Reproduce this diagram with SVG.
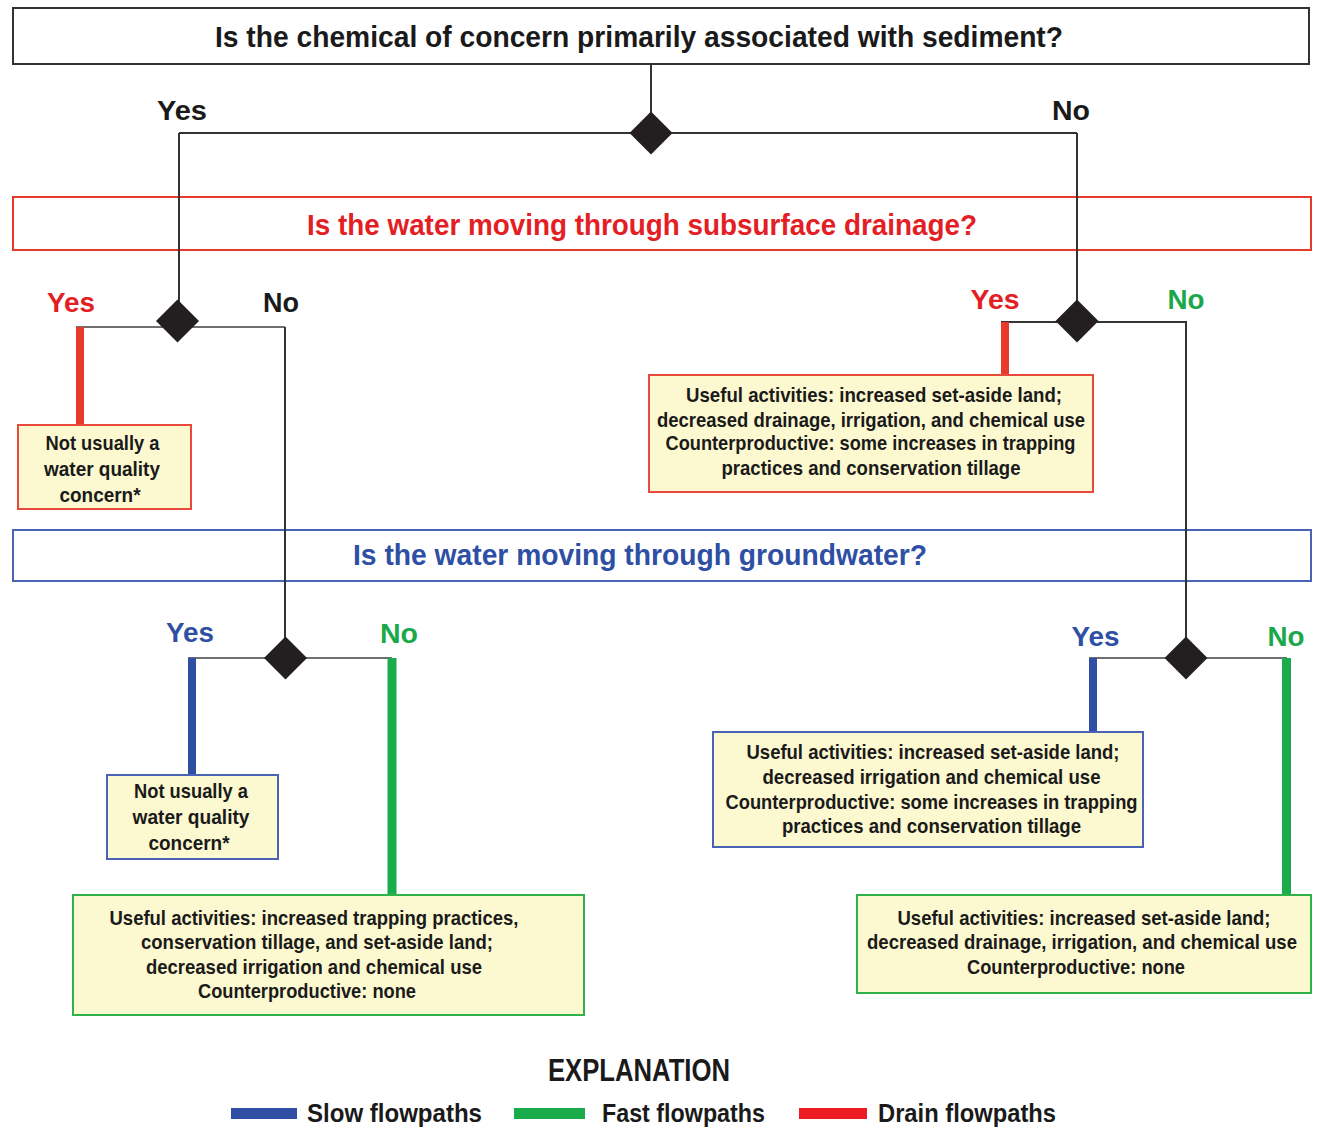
<svg xmlns="http://www.w3.org/2000/svg" width="1320" height="1128" viewBox="0 0 1320 1128">
<style>
text{font-family:"Liberation Sans",Arial,sans-serif;font-weight:bold;text-anchor:middle}
.q{font-size:30px}
.lbl{font-size:28px}
.bt{font-size:21px;fill:#1a1a1a}
.k{fill:#1a1a1a}
.r{fill:#e31e24}
.g{fill:#1aa84a}
.b{fill:#2e4fa3}
.qbox{fill:none;stroke-width:2}
.box{fill:#fcf8cf;stroke-width:2}
.thin{fill:none;stroke:#333;stroke-width:2}
.gray{fill:none;stroke:#6f6f6f;stroke-width:2.2}
.dia{fill:#231f20}
.fr{stroke:#e8392d;stroke-width:8;fill:none}
.fg{stroke:#1aab4b;stroke-width:9;fill:none}
.fb{stroke:#2e4fa3;stroke-width:8;fill:none}
</style>
<defs>
<path id="d" d="M0,-21.5 L21.5,0 L0,21.5 L-21.5,0 Z"/>
</defs>
<rect width="1320" height="1128" fill="#fff"/>

<g id="q1">
<rect class="qbox" x="13" y="8" width="1296" height="56" stroke="#333"/>
<text class="q k" x="639" y="47" textLength="848" lengthAdjust="spacingAndGlyphs">Is the chemical of concern primarily associated with sediment?</text>
</g>
<g id="q2">
<rect class="qbox" x="13" y="197" width="1298" height="53" stroke="#e8392d"/>
<text class="q r" x="642" y="235" textLength="670" lengthAdjust="spacingAndGlyphs">Is the water moving through subsurface drainage?</text>
</g>
<g id="q3">
<rect class="qbox" x="13" y="530" width="1298" height="51" stroke="#4a63b5"/>
<text class="q b" x="640" y="565" textLength="574" lengthAdjust="spacingAndGlyphs">Is the water moving through groundwater?</text>
</g>

<g id="connectors">
<path class="thin" d="M651,64 V133 M179,133 H1077 M179,133 V320 M1077,133 V320"/>
<path class="gray" d="M76,327 H285"/>
<path class="thin" d="M285,327 V657"/>
<path class="thin" d="M1001,322 H1186 V657"/>
<path class="gray" d="M188,658 H392"/>
<path class="gray" d="M1089,658 H1287"/>
<path class="fr" d="M80,327 V425"/>
<path class="fr" d="M1005,322 V375"/>
<path class="fb" d="M192,658 V775"/>
<path class="fg" d="M392,658 V895"/>
<path class="fb" d="M1093,658 V732"/>
<path class="fg" d="M1286.5,658 V895"/>
</g>

<g id="d1"><use href="#d" x="651" y="133" class="dia"/></g>
<g id="l1">
<text class="lbl k" x="182" y="120" textLength="50" lengthAdjust="spacingAndGlyphs">Yes</text>
<text class="lbl k" x="1071" y="120" textLength="38" lengthAdjust="spacingAndGlyphs">No</text>
</g>

<g id="d2"><use href="#d" x="177.5" y="321" class="dia"/></g>
<g id="l2">
<text class="lbl r" x="71" y="312" textLength="48" lengthAdjust="spacingAndGlyphs">Yes</text>
<text class="lbl k" x="281" y="312" textLength="36" lengthAdjust="spacingAndGlyphs">No</text>
</g>
<g id="d3"><use href="#d" x="1077" y="321" class="dia"/></g>
<g id="l3">
<text class="lbl r" x="995" y="309" textLength="49" lengthAdjust="spacingAndGlyphs">Yes</text>
<text class="lbl g" x="1186" y="309" textLength="37" lengthAdjust="spacingAndGlyphs">No</text>
</g>

<g id="box1">
<rect class="box" x="18" y="425" width="173" height="84" stroke="#e8493a"/>
<text class="bt" x="102.5" y="450" textLength="114" lengthAdjust="spacingAndGlyphs">Not usually a</text>
<text class="bt" x="102" y="476" textLength="116" lengthAdjust="spacingAndGlyphs">water quality</text>
<text class="bt" x="100" y="502" textLength="81" lengthAdjust="spacingAndGlyphs">concern*</text>
</g>

<g id="box2">
<rect class="box" x="649" y="375" width="444" height="117" stroke="#e8493a"/>
<text class="bt" x="874" y="402" textLength="376" lengthAdjust="spacingAndGlyphs">Useful activities: increased set-aside land;</text>
<text class="bt" x="871" y="427" textLength="428" lengthAdjust="spacingAndGlyphs">decreased drainage, irrigation, and chemical use</text>
<text class="bt" x="870.5" y="450" textLength="410" lengthAdjust="spacingAndGlyphs">Counterproductive: some increases in trapping</text>
<text class="bt" x="871" y="475" textLength="299" lengthAdjust="spacingAndGlyphs">practices and conservation tillage</text>
</g>

<g id="d4"><use href="#d" x="285.5" y="658" class="dia"/></g>
<g id="l4">
<text class="lbl b" x="190" y="642" textLength="48" lengthAdjust="spacingAndGlyphs">Yes</text>
<text class="lbl g" x="399" y="643" textLength="38" lengthAdjust="spacingAndGlyphs">No</text>
</g>
<g id="d5"><use href="#d" x="1186" y="658" class="dia"/></g>
<g id="l5">
<text class="lbl b" x="1095.5" y="646" textLength="48" lengthAdjust="spacingAndGlyphs">Yes</text>
<text class="lbl g" x="1286" y="646" textLength="37" lengthAdjust="spacingAndGlyphs">No</text>
</g>

<g id="box3">
<rect class="box" x="107" y="775" width="171" height="84" stroke="#4a63b5"/>
<text class="bt" x="191" y="798" textLength="114" lengthAdjust="spacingAndGlyphs">Not usually a</text>
<text class="bt" x="191" y="824" textLength="117" lengthAdjust="spacingAndGlyphs">water quality</text>
<text class="bt" x="189" y="850" textLength="81" lengthAdjust="spacingAndGlyphs">concern*</text>
</g>

<g id="box4">
<rect class="box" x="73" y="895" width="511" height="120" stroke="#2db34a"/>
<text class="bt" x="314" y="925" textLength="409" lengthAdjust="spacingAndGlyphs">Useful activities: increased trapping practices,</text>
<text class="bt" x="317" y="949" textLength="352" lengthAdjust="spacingAndGlyphs">conservation tillage, and set-aside land;</text>
<text class="bt" x="314" y="974" textLength="336" lengthAdjust="spacingAndGlyphs">decreased irrigation and chemical use</text>
<text class="bt" x="307" y="998" textLength="218" lengthAdjust="spacingAndGlyphs">Counterproductive: none</text>
</g>

<g id="box5">
<rect class="box" x="713" y="732" width="430" height="115" stroke="#4a63b5"/>
<text class="bt" x="933" y="759" textLength="373" lengthAdjust="spacingAndGlyphs">Useful activities: increased set-aside land;</text>
<text class="bt" x="931.5" y="784" textLength="338" lengthAdjust="spacingAndGlyphs">decreased irrigation and chemical use</text>
<text class="bt" x="931.5" y="809" textLength="412" lengthAdjust="spacingAndGlyphs">Counterproductive: some increases in trapping</text>
<text class="bt" x="931.5" y="833" textLength="299" lengthAdjust="spacingAndGlyphs">practices and conservation tillage</text>
</g>

<g id="box6">
<rect class="box" x="857" y="895" width="454" height="98" stroke="#2db34a"/>
<text class="bt" x="1084" y="925" textLength="373" lengthAdjust="spacingAndGlyphs">Useful activities: increased set-aside land;</text>
<text class="bt" x="1082" y="949" textLength="430" lengthAdjust="spacingAndGlyphs">decreased drainage, irrigation, and chemical use</text>
<text class="bt" x="1076" y="974" textLength="218" lengthAdjust="spacingAndGlyphs">Counterproductive: none</text>
</g>

<g id="legend">
<text class="k" x="639" y="1081" style="font-size:31px" textLength="182" lengthAdjust="spacingAndGlyphs">EXPLANATION</text>
<rect x="231" y="1108" width="66" height="11" fill="#2e4fa3"/>
<text class="k" x="307" y="1122" style="font-size:25px;text-anchor:start" textLength="175" lengthAdjust="spacingAndGlyphs">Slow flowpaths</text>
<rect x="514" y="1108" width="71" height="11" fill="#1aab4b"/>
<text class="k" x="602" y="1122" style="font-size:25px;text-anchor:start" textLength="163" lengthAdjust="spacingAndGlyphs">Fast flowpaths</text>
<rect x="799" y="1108" width="68" height="11" fill="#ed1c24"/>
<text class="k" x="878" y="1122" style="font-size:25px;text-anchor:start" textLength="178" lengthAdjust="spacingAndGlyphs">Drain flowpaths</text>
</g>
</svg>
